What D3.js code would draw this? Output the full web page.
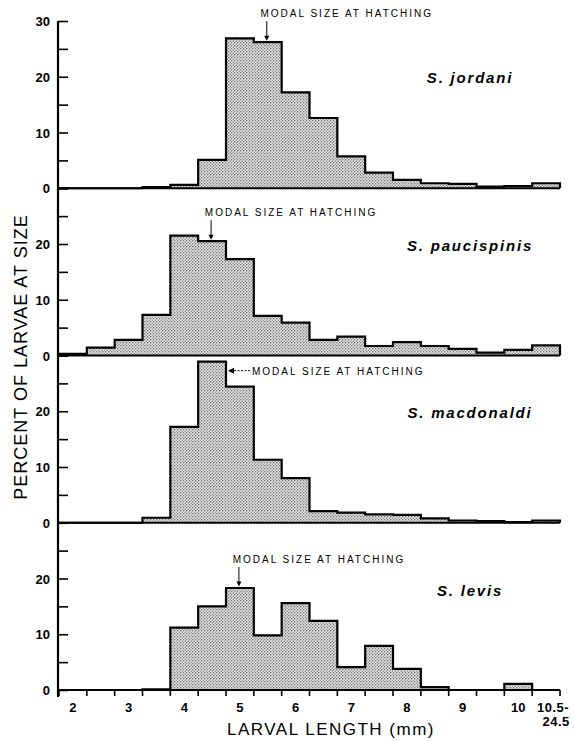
<!DOCTYPE html>
<html>
<head>
<meta charset="utf-8">
<script src="https://cdn.jsdelivr.net/npm/d3@7"></script>
<style>
  body { margin: 0; background: #fff; }
  text { font-family: "Liberation Sans", Arial, sans-serif; fill: #000; }
</style>
</head>
<body>
<svg width="574" height="741"></svg>
<script>
// size classes (mm), 0.5 mm bins, the last one is open ended
let bins = ["2","2.5","3","3.5","4","4.5","5","5.5","6","6.5","7","7.5","8","8.5","9","9.5","10","10.5-24.5"];
let xLabels = ["2","3","4","5","6","7","8","9","10"];

let species = ["S. jordani", "S. paucispinis", "S. macdonaldi", "S. levis"];

// percent of larvae at size
let jordani     = [0, 0, 0, 0.2, 0.6, 5.1, 26.9, 26.2, 17.2, 12.6, 5.7, 2.8, 1.5, 0.9, 0.8, 0.3, 0.4, 0.9];
let paucispinis = [0.3, 1.4, 2.8, 7.3, 21.5, 20.5, 17.3, 7.1, 5.9, 2.8, 3.4, 1.7, 2.4, 1.7, 1.2, 0.5, 1.0, 1.8];
let macdonaldi  = [0, 0, 0, 0.9, 17.2, 28.9, 24.4, 11.3, 8.0, 2.1, 1.8, 1.5, 1.4, 0.8, 0.4, 0.3, 0.1, 0.4];
let levis       = [0, 0, 0, 0.1, 11.2, 15.0, 18.3, 9.8, 15.6, 12.4, 4.1, 7.9, 3.8, 0.5, 0, 0, 1.1, 0];

// bin with the modal size at hatching
let modalBins = ["5.5", "4.5", "4.5", "5"];

let series = [jordani, paucispinis, macdonaldi, levis];

let svg = d3.select("svg");

// stipple fill
let pat = svg.append("defs").append("pattern")
    .attr("id", "dots")
    .attr("patternUnits", "userSpaceOnUse")
    .attr("width", 3).attr("height", 3);
pat.append("rect").attr("width", 3).attr("height", 3).attr("fill", "#e6e6e6");
pat.append("circle").attr("cx", 0.75).attr("cy", 0.75).attr("r", 0.7).attr("fill", "#555");
pat.append("circle").attr("cx", 2.25).attr("cy", 2.25).attr("r", 0.7).attr("fill", "#777");

let plotLeft = 59, plotRight = 560, plotTop = 21, plotBottom = 690;
let panelH = (plotBottom - plotTop) / 4;

let x = d3.scaleBand().domain(bins).range([plotLeft, plotRight]).paddingInner(0).paddingOuter(0);
let bw = x.bandwidth();

let labelDy = [0, 0, 0, 11];

series.forEach((vals, i) => {
  let zero = plotTop + panelH * (i + 1);
  let y = d3.scaleLinear().domain([0, 30]).range([zero, zero - panelH]);
  let g = svg.append("g");

  // step outline of the histogram
  let pts = [[plotLeft, y(0)]];
  vals.forEach((v, j) => {
    pts.push([x(bins[j]), y(v)]);
    pts.push([x(bins[j]) + bw, y(v)]);
  });
  pts.push([plotRight, y(0)]);

  g.append("path")
    .attr("d", d3.line()(pts) + "Z")
    .attr("fill", "url(#dots)")
    .attr("stroke", "none");
  g.append("path")
    .attr("d", d3.line()(pts))
    .attr("fill", "none")
    .attr("stroke", "#000")
    .attr("stroke-width", 2.2)
    .attr("stroke-linejoin", "miter");

  // baseline
  g.append("line")
    .attr("x1", plotLeft).attr("x2", plotRight)
    .attr("y1", y(0)).attr("y2", y(0))
    .attr("stroke", "#000").attr("stroke-width", 2.2);

  // y axis ticks (inward) and labels
  let ax = g.append("g")
    .attr("transform", "translate(" + (plotLeft - 1) + ",0)")
    .call(d3.axisLeft(y)
      .tickValues([0, 5, 10, 15, 20, 25, 30])
      .tickSizeInner(-10).tickSizeOuter(0).tickPadding(8)
      .tickFormat(d => (d % 10 == 0 && (d < 30 || i == 0)) ? d : ""));
  ax.select(".domain").remove();
  ax.selectAll(".tick line").attr("stroke", "#000").attr("stroke-width", 1.6);
  ax.selectAll(".tick text")
    .style("font-family", "'Liberation Sans', Arial, sans-serif")
    .style("font-size", "13px").style("font-weight", "bold")
    .attr("dy", "0.36em");

  // species name
  g.append("text")
    .attr("x", 470).attr("y", y(19.7) + 5 + labelDy[i])
    .attr("text-anchor", "middle")
    .style("font-size", "15px").style("font-weight", "bold").style("font-style", "italic")
    .style("letter-spacing", "1.8px")
    .text(species[i]);

  // modal size at hatching marker
  let mi = bins.indexOf(modalBins[i]);
  let mv = vals[mi];
  if (i == 2) {
    let ay = y(mv) + 9;
    let ax0 = x(modalBins[i]) + bw + 2;
    g.append("path")
      .attr("d", "M" + ax0 + "," + ay + "l6,-3l0,6Z").attr("fill", "#000");
    g.append("line")
      .attr("x1", ax0 + 6).attr("x2", ax0 + 22).attr("y1", ay).attr("y2", ay)
      .attr("stroke", "#000").attr("stroke-width", 1).attr("stroke-dasharray", "2,1.5");
    g.append("text")
      .attr("x", ax0 + 24).attr("y", ay + 4)
      .style("font-size", "10px").style("letter-spacing", "2px")
      .text("MODAL SIZE AT HATCHING");
  } else {
    let cx = x(modalBins[i]) + bw / 2 - 1;
    let ty = y(mv) - 25;
    g.append("line")
      .attr("x1", cx).attr("x2", cx).attr("y1", ty + 4).attr("y2", y(mv) - 5)
      .attr("stroke", "#000").attr("stroke-width", 1);
    g.append("path")
      .attr("d", "M" + cx + "," + (y(mv) - 1.5) + "l-2.5,-5l5,0Z").attr("fill", "#000");
    g.append("text")
      .attr("x", cx + 80).attr("y", ty)
      .attr("text-anchor", "middle")
      .style("font-size", "10px").style("letter-spacing", "2px")
      .text("MODAL SIZE AT HATCHING");
  }
});

// y axis line
svg.append("line")
  .attr("x1", plotLeft - 1).attr("x2", plotLeft - 1)
  .attr("y1", plotTop).attr("y2", plotBottom + 7)
  .attr("stroke", "#000").attr("stroke-width", 2.2);

// x axis ticks at bin edges
let edges = bins.map(b => x(b)).concat([plotRight]);
svg.append("g").selectAll("line")
  .data(edges)
  .enter()
  .append("line")
  .attr("x1", d => d).attr("x2", d => d)
  .attr("y1", plotBottom).attr("y2", plotBottom + 6)
  .attr("stroke", "#000").attr("stroke-width", 1.6);

svg.append("g").selectAll("text")
  .data(xLabels)
  .enter()
  .append("text")
  .attr("x", d => x(d) + bw / 2)
  .attr("y", plotBottom + 22)
  .attr("text-anchor", "middle")
  .style("font-size", "13px").style("font-weight", "bold")
  .text(d => d);

let last = bins[bins.length - 1];
let lastParts = last.split("-");
svg.append("text")
  .attr("x", x(last) + bw / 2 + 7).attr("y", plotBottom + 22)
  .attr("text-anchor", "middle")
  .style("font-size", "13px").style("font-weight", "bold").style("letter-spacing", "0.5px")
  .text(lastParts[0] + "-");
svg.append("text")
  .attr("x", x(last) + bw / 2 + 10).attr("y", plotBottom + 36)
  .attr("text-anchor", "middle")
  .style("font-size", "13px").style("font-weight", "bold").style("letter-spacing", "0.5px")
  .text(lastParts[1]);

// axis titles
svg.append("text")
  .attr("x", 331).attr("y", 735)
  .attr("text-anchor", "middle")
  .style("font-size", "17px").style("letter-spacing", "1.5px")
  .text("LARVAL LENGTH (mm)");

svg.append("text")
  .attr("transform", "translate(27,357) rotate(-90)")
  .attr("text-anchor", "middle")
  .style("font-size", "18px").style("letter-spacing", "1px")
  .text("PERCENT OF LARVAE AT SIZE");
</script>
</body>
</html>
